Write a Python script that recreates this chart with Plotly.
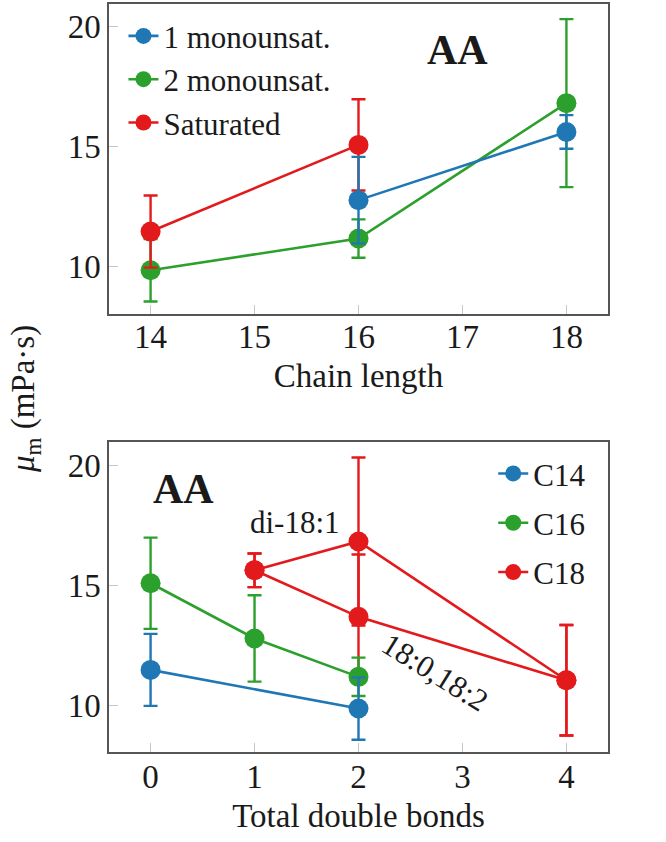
import plotly.graph_objects as go
from plotly.subplots import make_subplots

# ---- data: top panel (x = chain length) ----
mono1_x = [16, 18]
mono1_y = [12.78, 15.62]
mono1_e = [1.8, 0.7]

mono2_x = [14, 16, 18]
mono2_y = [9.86, 11.18, 16.82]
mono2_e = [1.3, 0.8, 3.5]

sat_x = [14, 16]
sat_y = [11.47, 15.08]
sat_e = [1.5, 1.9]

# ---- data: bottom panel (x = total double bonds) ----
c14_x = [0, 2]
c14_y = [11.47, 9.86]
c14_e = [1.5, 1.3]

c16_x = [0, 1, 2]
c16_y = [15.08, 12.78, 11.18]
c16_e = [1.9, 1.8, 0.8]

c18a_x = [1, 2, 4]          # via di-18:1
c18a_y = [15.62, 16.82, 11.04]
c18a_e = [0.7, 3.5, 2.3]

c18b_x = [1, 2, 4]          # via 18:0,18:2
c18b_y = [15.62, 13.68, 11.04]
c18b_e = [0.7, 2.6, 2.3]

top_ticks = [14, 15, 16, 17, 18]
bot_ticks = [0, 1, 2, 3, 4]
y_ticks = [10, 15, 20]

BLUE = "#1f77b4"
GREEN = "#2ca02c"
RED = "#e31a1c"
FONT = "Liberation Serif, Times New Roman, serif"
FS = 33
TXT = "#1a1a1a"

fig = make_subplots(rows=2, cols=1, vertical_spacing=0.172)


def add(x, y, e, color, name, row, legend, show=True, rank=1):
    fig.add_trace(go.Scatter(
        x=x, y=y, mode="lines+markers", name=name,
        line=dict(color=color, width=2.6),
        marker=dict(color=color, size=20),
        error_y=dict(type="data", array=e, color=color, thickness=2.4, width=7),
        legend=legend, showlegend=show, legendrank=rank, legendgroup=name,
    ), row=row, col=1)


# top (draw order chosen to match overlaps)
add(mono2_x, mono2_y, mono2_e, GREEN, "2 monounsat.", 1, "legend", rank=2)
add(sat_x, sat_y, sat_e, RED, "Saturated", 1, "legend", rank=3)
add(mono1_x, mono1_y, mono1_e, BLUE, "1 monounsat.", 1, "legend", rank=1)

# bottom
add(c18b_x, c18b_y, c18b_e, RED, "C18", 2, "legend2", show=False, rank=3)
add(c18a_x, c18a_y, c18a_e, RED, "C18", 2, "legend2", rank=3)
add(c16_x, c16_y, c16_e, GREEN, "C16", 2, "legend2", rank=2)
add(c14_x, c14_y, c14_e, BLUE, "C14", 2, "legend2", rank=1)

axis_common = dict(
    showgrid=False, zeroline=False, showline=True, linecolor="#555555",
    linewidth=1.5, mirror=True, ticks="inside", ticklen=9,
    tickcolor="#c8c8c8", tickwidth=1.2,
    tickfont=dict(family=FONT, size=FS, color=TXT),
)

fig.update_xaxes(axis_common)
fig.update_yaxes(axis_common)

fig.update_xaxes(range=[13.6, 18.4], tickvals=top_ticks, ticklabelstandoff=-7,
                 title=dict(text="Chain length", font=dict(family=FONT, size=FS, color=TXT), standoff=10),
                 row=1, col=1)
fig.update_xaxes(range=[-0.4, 4.4], tickvals=bot_ticks, ticklabelstandoff=-5,
                 title=dict(text="Total double bonds", font=dict(family=FONT, size=FS, color=TXT), standoff=10),
                 row=2, col=1)
fig.update_yaxes(range=[8.05, 20.95], tickvals=y_ticks, row=1, col=1)
fig.update_yaxes(range=[8.05, 20.95], tickvals=y_ticks, row=2, col=1)

fig.update_layout(
    width=666, height=842,
    margin=dict(l=109, r=58, t=2, b=90),
    paper_bgcolor="white", plot_bgcolor="white",
    font=dict(family=FONT, size=FS, color=TXT),
    legend=dict(x=0.029, y=0.993, xanchor="left", yanchor="top",
                bgcolor="rgba(0,0,0,0)", font=dict(family=FONT, size=31, color=TXT),
                itemwidth=30, tracegroupgap=0),
    legend2=dict(x=0.77, y=0.408, xanchor="left", yanchor="top",
                 bgcolor="rgba(0,0,0,0)", font=dict(family=FONT, size=31, color=TXT),
                 itemwidth=30, tracegroupgap=6),
)

fig.update_layout(annotations=[
    dict(text="<b>AA</b>", x=16.95, y=19.05, xref="x", yref="y", showarrow=False,
         font=dict(family=FONT, size=42, color=TXT)),
    dict(text="<b>AA</b>", x=0.32, y=19.0, xref="x2", yref="y2", showarrow=False,
         font=dict(family=FONT, size=42, color=TXT)),
    dict(text="di-18:1", x=1.385, y=17.6, xref="x2", yref="y2", showarrow=False,
         font=dict(family=FONT, size=31, color=TXT)),
    dict(text="18:0,18:2", x=2.74, y=11.35, xref="x2", yref="y2", showarrow=False,
         textangle=32, font=dict(family=FONT, size=31, color=TXT)),
    dict(text="<i>μ</i><sub>m</sub> (mPa·s)", x=-0.166, y=0.472, xref="paper", yref="paper",
         xanchor="center", yanchor="middle",
         showarrow=False, textangle=-90, font=dict(family=FONT, size=FS, color=TXT)),
])

fig.write_html("out.html", post_script="document.body.style.margin='0';",
               config={"displayModeBar": False})
